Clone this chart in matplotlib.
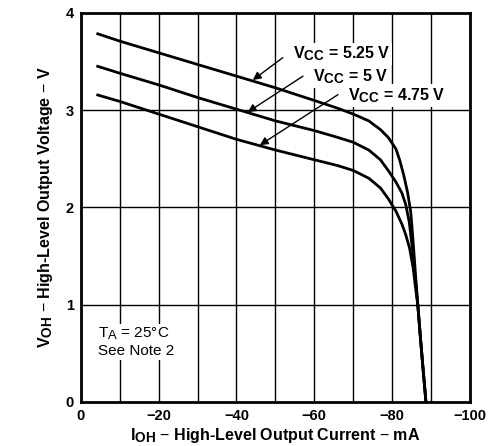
import matplotlib.pyplot as plt
import matplotlib._mathtext as mathtext

plt.rcParams['font.family'] = ['Liberation Sans', 'DejaVu Sans']
plt.rcParams['mathtext.fontset'] = 'custom'
plt.rcParams['mathtext.rm'] = 'Liberation Sans'
plt.rcParams['mathtext.bf'] = 'Liberation Sans:bold'
# subscripts in the datasheet are nearly full size
mathtext.SHRINK_FACTOR = 0.85

# output current (mA) and output voltage (V)
i_525 = [-4, -10, -20, -30, -40, -50, -60, -66, -70, -74, -77, -79, -81, -82, -83, -84, -84.8, -85.4, -86, -86.6, -87.3, -88, -88.7]
v_525 = [3.79, 3.71, 3.59, 3.47, 3.35, 3.23, 3.10, 3.02, 2.96, 2.89, 2.80, 2.72, 2.60, 2.48, 2.33, 2.15, 1.95, 1.65, 1.32, 1.00, 0.65, 0.32, 0.0]

i_500 = [-4, -10, -20, -30, -40, -50, -60, -66, -70, -74, -77, -79, -81, -82.5, -83.5, -84.4, -85.2, -86, -86.6, -87.3, -88, -88.7]
v_500 = [3.455, 3.38, 3.26, 3.13, 3.01, 2.89, 2.79, 2.72, 2.67, 2.59, 2.49, 2.38, 2.26, 2.15, 2.03, 1.85, 1.58, 1.25, 1.00, 0.65, 0.32, 0.0]

i_475 = [-4, -10, -20, -30, -40, -50, -60, -66, -70, -74, -77, -79, -81, -82.5, -83.5, -84.5, -85.4, -86.1, -86.6, -87.3, -88, -88.7]
v_475 = [3.16, 3.09, 2.96, 2.83, 2.70, 2.59, 2.49, 2.43, 2.38, 2.30, 2.20, 2.09, 1.96, 1.83, 1.72, 1.58, 1.38, 1.15, 1.00, 0.65, 0.32, 0.0]

x_ticks = [0, -20, -40, -60, -80, -100]
x_labels = ['0', '\u221220', '\u221240', '\u221260', '\u221280', '\u2212100']
y_ticks = [0, 1, 2, 3, 4]

fig = plt.figure(figsize=(4.9, 4.46), dpi=100)
ax = fig.add_axes([0.165, 0.099, 0.794, 0.872])

for x in range(-10, -100, -10):
    ax.axvline(x, color='black', lw=1.0, zorder=1)
for y in [1, 2, 3]:
    ax.axhline(y, color='black', lw=1.0, zorder=1)

for i, v in [(i_525, v_525), (i_500, v_500), (i_475, v_475)]:
    ax.plot(i, v, color='black', lw=2.0, zorder=3, solid_capstyle='butt', solid_joinstyle='round')

ax.set_xlim(0, -100)
ax.set_ylim(0, 4)
ax.set_xticks(x_ticks)
ax.set_xticklabels(x_labels, fontsize=10.5, fontweight='bold')
ax.set_yticks(y_ticks)
ax.set_yticklabels([str(t) for t in y_ticks], fontsize=10.5, fontweight='bold')
ax.tick_params(length=0, pad=5)
for s in ax.spines.values():
    s.set_linewidth(2.0)

ax.set_xlabel(r'I$_{\mathbf{OH}}$ $-$ High-Level Output Current $-$ mA', fontsize=11.5, fontweight='bold', labelpad=2)
ax.set_ylabel(r'V$_{\mathbf{OH}}$ $-$ High-Level Output Voltage $-$ V', fontsize=11.5, fontweight='bold', labelpad=8)

box = dict(facecolor='white', edgecolor='none', pad=1.5)
arrow = dict(arrowstyle='-|>', color='black', lw=1.0, mutation_scale=12, shrinkA=0, shrinkB=0)
ax.annotate('', xy=(-44.2, 3.31), xytext=(-51.9, 3.54), arrowprops=arrow, zorder=5)
ax.annotate('', xy=(-42.9, 2.98), xytext=(-57.1, 3.35), arrowprops=arrow, zorder=5)
ax.annotate('', xy=(-46.0, 2.64), xytext=(-66.1, 3.16), arrowprops=arrow, zorder=5)
ax.text(-54.5, 3.53, r'V$_{\mathbf{CC}}$ = 5.25 V', fontsize=11.5, fontweight='bold', va='baseline', ha='left', zorder=6, bbox=box)
ax.text(-59.6, 3.30, r'V$_{\mathbf{CC}}$ = 5 V', fontsize=11.5, fontweight='bold', va='baseline', ha='left', zorder=6, bbox=box)
ax.text(-68.6, 3.105, r'V$_{\mathbf{CC}}$ = 4.75 V', fontsize=11.5, fontweight='bold', va='baseline', ha='left', zorder=6, bbox=box)

ax.text(-4.4, 0.66, 'T$_{\\mathrm{A}}$ = 25\u00b0C', fontsize=11, va='baseline', ha='left', zorder=4, bbox=box)
ax.text(-4.4, 0.48, 'See Note 2', fontsize=11, va='baseline', ha='left', zorder=4, bbox=box)

fig.savefig('out.png', dpi=100)
